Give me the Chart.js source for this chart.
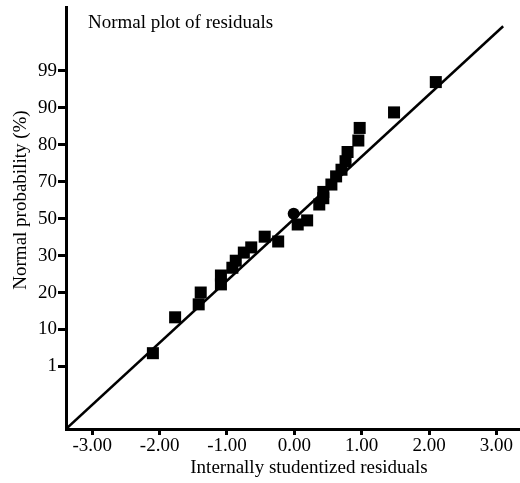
<!DOCTYPE html>
<html>
<head>
<meta charset="utf-8">
<script src="https://cdn.jsdelivr.net/npm/chart.js@4"></script>
<style>
  html, body { margin: 0; padding: 0; background: #fff; overflow: hidden; }
  canvas { display: block; }
</style>
</head>
<body>
<canvas id="grafico" width="520" height="483"></canvas>
<script>
// residuos (eje x) y posicion en la escala de probabilidad normal (eje y, en pasos de marca)
const residuos = [-2.10, -1.77, -1.42, -1.39, -1.09, -1.09, -0.92, -0.87, -0.75, -0.64, -0.44, -0.24,
  0.05, 0.19, 0.37, 0.43, 0.43, 0.55, 0.62, 0.70, 0.76, 0.79, 0.95, 0.97, 1.48, 2.10];
const posProb = [0.36, 1.33, 1.68, 2.00, 2.22, 2.46, 2.67, 2.86, 3.08, 3.22, 3.51, 3.38,
  3.84, 3.95, 4.38, 4.55, 4.72, 4.92, 5.14, 5.32, 5.55, 5.80, 6.11, 6.45, 6.87, 7.69];

// punto marcado con circulo
const circuloX = [-0.01];
const circuloY = [4.13];

// recta de referencia
const rectaX = [-3.39, 3.10];
const rectaY = [-1.69, 9.20];

// marcas de los ejes
const marcasX = [-3, -2, -1, 0, 1, 2, 3];
const etiquetasX = ["-3.00", "-2.00", "-1.00", "0.00", "1.00", "2.00", "3.00"];
const marcasY = [0, 1, 2, 3, 4, 5, 6, 7, 8];
const etiquetasY = ["1", "10", "20", "30", "50", "70", "80", "90", "99"];

const fuente = "'Liberation Serif', 'Times New Roman', serif";

const textos = {
  id: "textos",
  afterDraw(chart) {
    const ctx = chart.ctx;
    ctx.save();
    ctx.fillStyle = "#000";
    ctx.font = "19px " + fuente;
    ctx.textBaseline = "alphabetic";
    ctx.textAlign = "left";
    ctx.fillText("Normal plot of residuals", 88, 28);
    ctx.textAlign = "center";
    ctx.fillText("Internally studentized residuals", 309, 473);
    ctx.translate(26, 200);
    ctx.rotate(-Math.PI / 2);
    ctx.fillText("Normal probability (%)", 0, 0);
    ctx.restore();
  }
};

let grafico;

function mostrarGrafico() {
  const ctx = document.getElementById("grafico").getContext("2d");

  grafico = new Chart(ctx, {
    type: "scatter",
    data: {
      datasets: [
        {
          data: residuos.map((r, i) => ({ x: r, y: posProb[i] })),
          pointStyle: "rect",
          pointRadius: 8.5,
          pointHoverRadius: 8.5,
          backgroundColor: "#000",
          borderColor: "#000",
          borderWidth: 0
        },
        {
          data: circuloX.map((r, i) => ({ x: r, y: circuloY[i] })),
          pointStyle: "circle",
          pointRadius: 6,
          backgroundColor: "#000",
          borderColor: "#000",
          borderWidth: 0
        },
        {
          type: "line",
          data: rectaX.map((r, i) => ({ x: r, y: rectaY[i] })),
          borderColor: "#000",
          borderWidth: 2.5,
          pointRadius: 0,
          fill: false,
          tension: 0
        }
      ]
    },
    options: {
      responsive: false,
      animation: false,
      events: [],
      layout: { autoPadding: false, padding: { top: 7, right: 0, left: 0, bottom: 0 } },
      plugins: {
        legend: { display: false },
        tooltip: { enabled: false }
      },
      scales: {
        x: {
          type: "linear",
          min: -3.39,
          max: 3.35,
          afterBuildTicks: s => { s.ticks = marcasX.map(v => ({ value: v })); },
          afterFit: s => { s.height = 54; s.paddingLeft = 0; s.paddingRight = 0; },
          ticks: {
            color: "#000",
            font: { family: fuente, size: 19 },
            padding: 0,
            maxRotation: 0,
            autoSkip: false,
            callback: (v, i) => etiquetasX[i]
          },
          grid: { drawOnChartArea: false, drawTicks: true, tickLength: 6, tickWidth: 3, tickColor: "#000" },
          border: { display: true, color: "#000", width: 3 }
        },
        y: {
          type: "linear",
          min: -1.69,
          max: 9.72,
          afterBuildTicks: s => { s.ticks = marcasY.map(v => ({ value: v })); },
          afterFit: s => { s.width = 66; s.paddingTop = 0; s.paddingBottom = 0; },
          ticks: {
            color: "#000",
            font: { family: fuente, size: 19 },
            padding: 1,
            autoSkip: false,
            callback: (v, i) => etiquetasY[i]
          },
          grid: { drawOnChartArea: false, drawTicks: true, tickLength: 8, tickWidth: 3, tickColor: "#000" },
          border: { display: true, color: "#000", width: 3 }
        }
      }
    },
    plugins: [textos]
  });
}

mostrarGrafico();
</script>
</body>
</html>
